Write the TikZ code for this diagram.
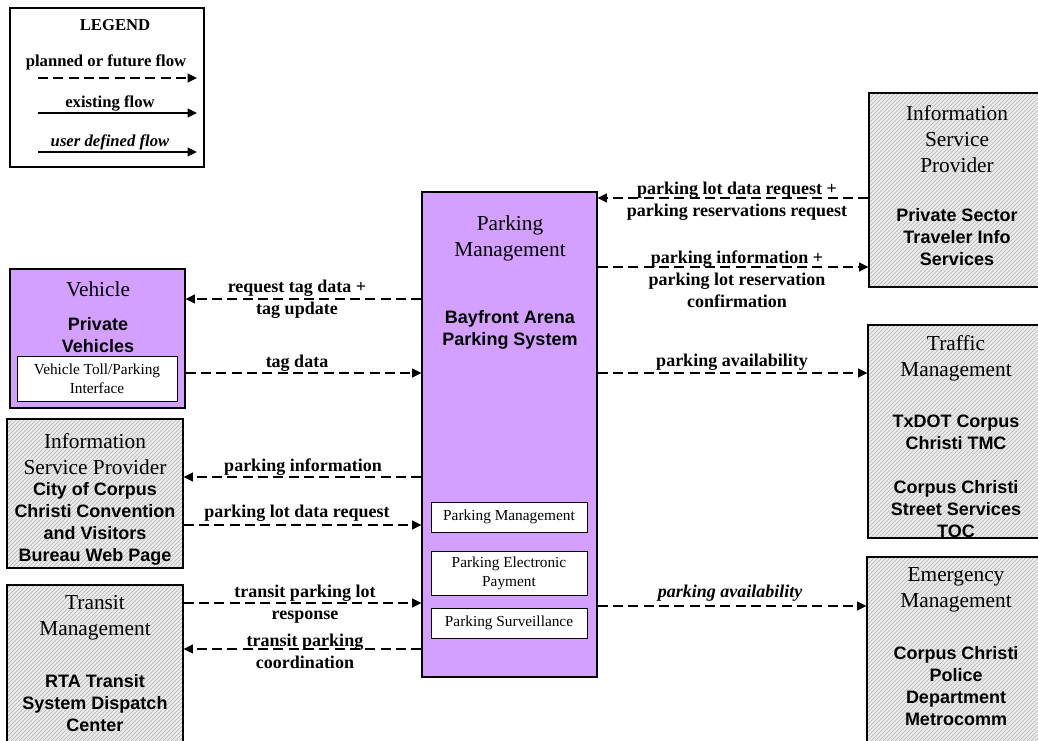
\documentclass[tikz,border=0pt]{standalone}
\usepackage{fontspec}
\setmainfont{Liberation Serif}
\setsansfont{Liberation Sans}
\usetikzlibrary{arrows.meta,fit,patterns}
\definecolor{pmpurple}{RGB}{212,160,255}
\definecolor{hatchbg}{RGB}{236,236,236}
\definecolor{hatchfg}{RGB}{178,178,178}
\tikzset{
  pbox/.style={draw, line width=0.8pt, fill=pmpurple, inner sep=0pt},
  gbox/.style={draw, line width=0.8pt, inner sep=0pt, preaction={fill=hatchbg}, pattern=north east lines, pattern color=hatchfg},
  wbox/.style={draw, line width=0.7pt, fill=white, inner sep=0pt},
  ttl/.style={align=center, font=\fontsize{16}{19.5}\selectfont, inner sep=0pt},
  nm/.style={align=center, font=\fontsize{13.5}{16.5}\selectfont\sffamily\bfseries, inner sep=0pt},
  sub/.style={align=center, font=\fontsize{11.5}{14.2}\selectfont, inner sep=0pt},
  lbl/.style={align=center, font=\fontsize{13.5}{16.5}\selectfont\bfseries, inner sep=0pt},
  lgd/.style={align=center, font=\fontsize{12.5}{15}\selectfont\bfseries, inner sep=0pt},
  flow/.style={line width=1.6pt, dash pattern=on 7.5pt off 4pt, -{Triangle[length=7pt,width=6.5pt]}},
  sflow/.style={line width=1.6pt, -{Triangle[length=7pt,width=6.5pt]}}
}
\begin{document}
\begin{tikzpicture}[x=0.75pt,y=-0.75pt]
\useasboundingbox (0,0) rectangle (1038,740);
\clip (0,0) rectangle (1038,740);

% Legend
\node[draw, line width=1.1pt, fit={(10,8)(204,167)}, inner sep=0pt] (legend) {};
\node[lgd] (lgdt) at (115,25) {LEGEND};
\node[lgd] (lg1) at (106,62) {planned or future flow};
\node[lgd] (lg2) at (110,103) {existing flow};
\node[lgd, font=\fontsize{12.5}{15}\selectfont\bfseries\itshape] (lg3) at (110,142) {user defined flow};
\coordinate (la1) at (38,78);  \coordinate (lb1) at (197,78);
\coordinate (la2) at (38,113); \coordinate (lb2) at (197,113);
\coordinate (la3) at (38,152); \coordinate (lb3) at (197,152);
\draw[flow] (la1) -- (lb1);
\draw[sflow] (la2) -- (lb2);
\draw[sflow] (la3) -- (lb3);

% Central box
\node[pbox, fit={(422,192)(597,677)}] (pm) {};
\node[ttl] (pmt) at (510,238) {Parking\\Management};
\node[nm] (pmn) at (510,330) {Bayfront Arena\\Parking System};
\node[wbox, fit={(431,502)(587,532)}] (s1) {};
\node[sub] (s1t) at (s1.center) {Parking Management};
\node[wbox, fit={(431,551)(587,595)}] (s2) {};
\node[sub] (s2t) at (s2.center) {Parking Electronic\\Payment};
\node[wbox, fit={(431,608)(587,638)}] (s3) {};
\node[sub] (s3t) at (s3.center) {Parking Surveillance};

% Vehicle
\node[pbox, fit={(10,269)(185,408)}] (veh) {};
\node[ttl] (veht) at (98,289) {Vehicle};
\node[nm] (vehn) at (98,335.5) {Private\\Vehicles};
\node[wbox, fit={(17,356)(177,401)}] (vehs) {};
\node[sub] (vehst) at (vehs.center) {Vehicle Toll/Parking\\Interface};

% Left ISP
\node[gbox, fit={(7,419)(183,568)}] (lisp) {};
\node[ttl] (lispt) at (95,454) {Information\\Service Provider};
\node[nm] (lispn) at (95,523.5) {City of Corpus\\Christi Convention\\and Visitors\\Bureau Web Page};

% Transit
\node[gbox, fit={(7,585)(183,770)}] (tr) {};
\node[ttl] (trt) at (95,618) {Transit\\Management};
\node[nm] (trn) at (95,703) {RTA Transit\\System Dispatch\\Center};

% Right ISP
\node[gbox, fit={(869,93)(1046,287)}] (risp) {};
\node[ttl] (rispt) at (957,139) {Information\\Service\\Provider};
\node[nm] (rispn) at (957,237) {Private Sector\\Traveler Info\\Services};

% Traffic
\node[gbox, fit={(868,325)(1046,538)}] (tm) {};
\node[ttl] (tmt) at (956,358.5) {Traffic\\Management};
\node[nm] (tmn1) at (956,432.5) {TxDOT Corpus\\Christi TMC};
\node[nm] (tmn2) at (956,509.5) {Corpus Christi\\Street Services\\TOC};

% Emergency
\node[gbox, fit={(867,557)(1046,770)}] (em) {};
\node[ttl] (emt) at (956,590) {Emergency\\Management};
\node[nm] (emn) at (956,686) {Corpus Christi\\Police\\Department\\Metrocomm};

% Left flows
\draw[flow] (pm.west |- 0,299) -- (veh.east |- 0,299);
\node[lbl] (f1) at (297,299) {request tag data +\\tag update};
\draw[flow] (veh.east |- 0,373) -- (pm.west |- 0,373);
\node[lbl] (f2) at (297,363) {tag data};
\draw[flow] (pm.west |- 0,477) -- (lisp.east |- 0,477);
\node[lbl] (f3) at (303,467) {parking information};
\draw[flow] (lisp.east |- 0,525) -- (pm.west |- 0,525);
\node[lbl] (f4) at (297,513) {parking lot data request};
\draw[flow] (tr.east |- 0,603) -- (pm.west |- 0,603);
\node[lbl] (f5) at (305,604) {transit parking lot\\response};
\draw[flow] (pm.west |- 0,649) -- (tr.east |- 0,649);
\node[lbl] (f6) at (305,651) {transit parking\\coordination};

% Right flows
\draw[flow] (risp.west |- 0,198) -- (pm.east |- 0,198);
\node[lbl] (f7) at (737,201) {parking lot data request +\\parking reservations request};
\draw[flow] (pm.east |- 0,267) -- (risp.west |- 0,267);
\node[lbl] (f8) at (737,279.5) {parking information +\\parking lot reservation\\confirmation};
\draw[flow] (pm.east |- 0,373) -- (tm.west |- 0,373);
\node[lbl] (f9) at (732,362) {parking availability};
\draw[flow] (pm.east |- 0,606) -- (em.west |- 0,606);
\node[lbl, font=\fontsize{13.5}{16.5}\selectfont\bfseries\itshape] (f10) at (730,593) {parking availability};
\end{tikzpicture}
\end{document}
